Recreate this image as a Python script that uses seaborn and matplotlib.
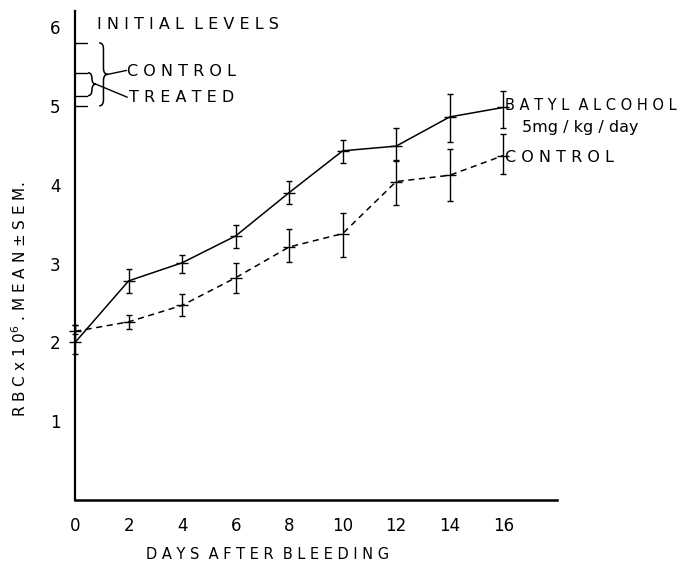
import matplotlib
matplotlib.use("Agg")
import matplotlib.pyplot as plt
import seaborn as sns
import numpy as np
import pandas as pd
from matplotlib.path import Path
from matplotlib.patches import PathPatch

# ---------------- data ----------------
days = [0, 2, 4, 6, 8, 10, 12, 14, 16]
batyl_mean = [2.00, 2.78, 3.01, 3.35, 3.90, 4.43, 4.49, 4.86, 4.98]
batyl_lo   = [1.85, 2.63, 2.88, 3.20, 3.75, 4.27, 4.31, 4.54, 4.72]
batyl_hi   = [2.22, 2.93, 3.11, 3.49, 4.05, 4.57, 4.72, 5.15, 5.19]
control_mean = [2.14, 2.26, 2.47, 2.82, 3.21, 3.38, 4.04, 4.12, 4.37]
control_lo   = [2.10, 2.17, 2.33, 2.62, 3.02, 3.08, 3.74, 3.79, 4.13]
control_hi   = [2.22, 2.35, 2.61, 3.01, 3.44, 3.64, 4.30, 4.45, 4.64]
init_control = (5.00, 5.80)
init_treated = (5.13, 5.42)
xticks = [0, 2, 4, 6, 8, 10, 12, 14, 16]
yticks = [1, 2, 3, 4, 5, 6]


def spaced(s, gap="  "):
    return gap.join(" ".join(list(w)) for w in s.split(" "))


df = pd.DataFrame({
    "day": days * 2,
    "rbc": batyl_mean + control_mean,
    "group": ["BATYL"] * len(days) + ["CONTROL"] * len(days),
})

sns.set_style("white")
plt.rcParams["font.family"] = ["DejaVu Sans"]
plt.rcParams["text.color"] = "black"
plt.rcParams["axes.labelcolor"] = "black"

fig = plt.figure(figsize=(6.89, 5.65), dpi=100)
ax = fig.add_axes([0.109, 0.115, 0.699, 0.865])

sns.lineplot(data=df, x="day", y="rbc", hue="group", style="group",
             palette={"BATYL": "black", "CONTROL": "black"},
             dashes={"BATYL": "", "CONTROL": (4, 3)},
             linewidth=1.1, legend=False, ax=ax, clip_on=False)

for m, lo, hi in [(batyl_mean, batyl_lo, batyl_hi), (control_mean, control_lo, control_hi)]:
    m = np.array(m); lo = np.array(lo); hi = np.array(hi)
    ax.errorbar(days, m, yerr=[m - lo, hi - m], fmt="_", color="black",
                ms=8, mew=1.0, elinewidth=1.0, capsize=2, capthick=1.0, clip_on=False)

ax.set_xlim(0, 18)
ax.set_ylim(0, 6.2)
ax.set_xticks(xticks)
ax.set_yticks(yticks)
ax.tick_params(axis="both", direction="out", length=7, width=1.0, labelsize=12, colors="black")
ax.tick_params(axis="x", pad=5)
for s in ["top", "right"]:
    ax.spines[s].set_visible(False)
ax.spines["left"].set_linewidth(1.6)
ax.spines["bottom"].set_linewidth(1.8)
ax.spines["left"].set_color("black")
ax.spines["bottom"].set_color("black")

ax.set_xlabel(spaced("DAYS AFTER BLEEDING"), fontsize=10.5)
ax.xaxis.set_label_coords(0.40, -0.097)
ax.set_ylabel("R B C x 1 0$^{6}$ . M E A N ± S E M.", fontsize=11)
ax.yaxis.set_label_coords(-0.095, 0.41)

# initial level ticks
for v in list(init_control) + list(init_treated):
    ax.plot([0, 0.45], [v, v], color="black", lw=1.0, clip_on=False)


def brace(x, y0, y1, w):
    ym = (y0 + y1) / 2
    xm = x + w * 0.5
    d = min(0.08, (y1 - y0) / 4)
    verts = [(x, y1), (xm, y1), (xm, y1 - d),
             (xm, ym + d),
             (xm, ym), (x + w, ym),
             (xm, ym), (xm, ym - d),
             (xm, y0 + d),
             (xm, y0), (x, y0)]
    codes = [Path.MOVETO, Path.CURVE3, Path.CURVE3,
             Path.LINETO,
             Path.CURVE3, Path.CURVE3,
             Path.CURVE3, Path.CURVE3,
             Path.LINETO,
             Path.CURVE3, Path.CURVE3]
    p = PathPatch(Path(verts, codes), fill=False, lw=1.1, color="black", clip_on=False)
    ax.add_patch(p)
    return (x + w, ym)


tip_c = brace(0.90, init_control[0], init_control[1], 0.32)
tip_t = brace(0.48, init_treated[0], init_treated[1], 0.30)
ax.plot([tip_c[0], 1.92], [tip_c[1], 5.45], color="black", lw=1.0, clip_on=False)
ax.plot([tip_t[0], 1.95], [tip_t[1], 5.11], color="black", lw=1.0, clip_on=False)

fs = 11.5
ax.text(0.82, 6.03, spaced("INITIAL LEVELS"), fontsize=fs, va="center", ha="left")
ax.text(1.95, 5.43, spaced("CONTROL"), fontsize=fs, va="center", ha="left")
ax.text(2.0, 5.11, spaced("TREATED"), fontsize=fs, va="center", ha="left")
ax.text(16.05, 5.01, spaced("BATYL ALCOHOL"), fontsize=10.5, va="center", ha="left")
ax.text(16.7, 4.72, "5mg / kg / day", fontsize=fs, va="center", ha="left")
ax.text(16.05, 4.34, spaced("CONTROL"), fontsize=fs, va="center", ha="left")

fig.savefig("out.png", dpi=100)
